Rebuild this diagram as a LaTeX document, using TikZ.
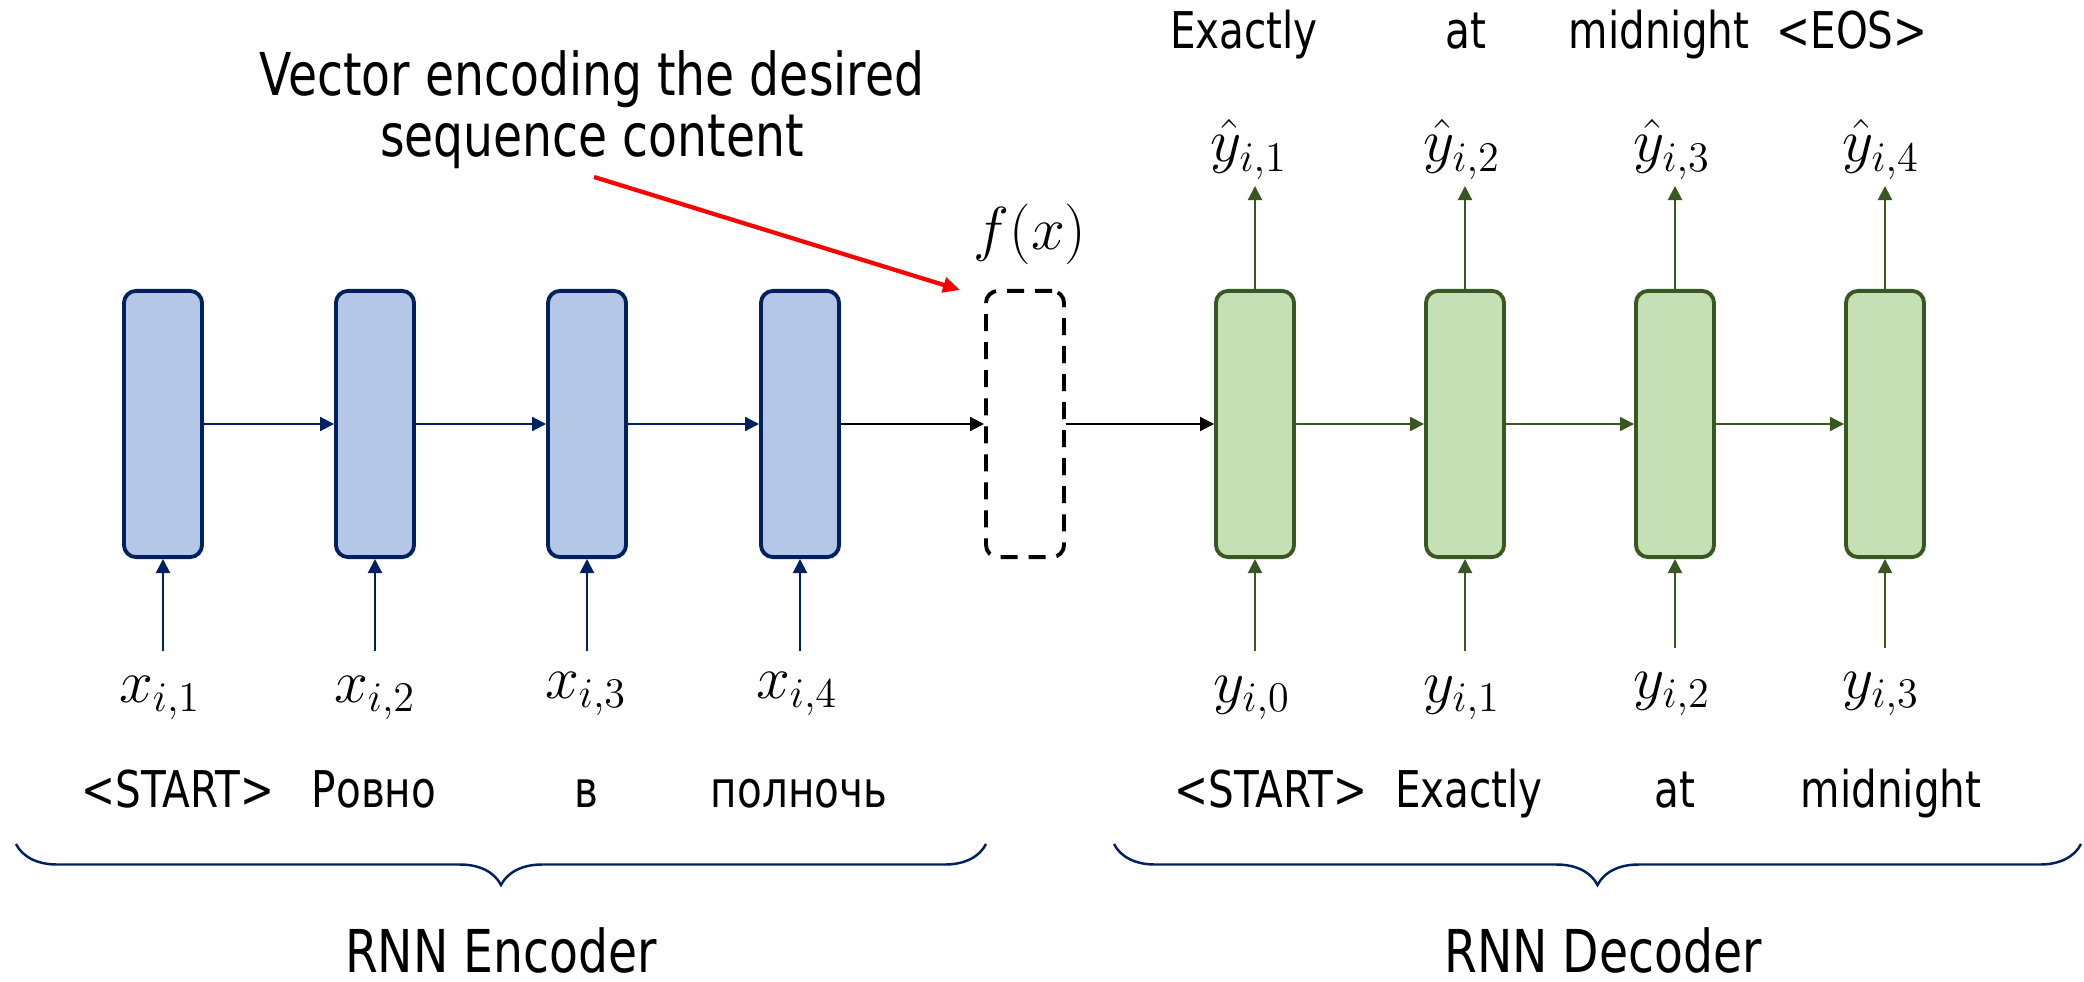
\documentclass[tikz,border=0pt]{standalone}
\usepackage{fontspec}
\setmainfont[FakeStretch=0.8]{DejaVu Sans}
\usetikzlibrary{arrows.meta,decorations.pathreplacing}
\definecolor{encfill}{RGB}{180,199,231}
\definecolor{encline}{RGB}{0,32,96}
\definecolor{decfill}{RGB}{197,224,180}
\definecolor{decline}{RGB}{56,87,35}
\begin{document}
\begin{tikzpicture}[x=0.01cm,y=-0.01cm,
  cell/.style={rounded corners=0.12cm, minimum width=0.78cm, minimum height=2.66cm, inner sep=0pt, line width=1.1pt},
  enccell/.style={cell, draw=encline, fill=encfill},
  deccell/.style={cell, draw=decline, fill=decfill},
  fcell/.style={cell, draw=black, dash pattern=on 0.17cm off 0.11cm},
  tipa/.style={-{Triangle[length=0.14cm,width=0.14cm]}},
  encarrow/.style={tipa, draw=encline, line width=0.6pt},
  decarrow/.style={tipa, draw=decline, line width=0.6pt},
  blkarrow/.style={tipa, draw=black, line width=0.6pt},
  redarrow/.style={-{Triangle[length=0.17cm,width=0.15cm]}, draw=red, line width=1.2pt},
  word/.style={anchor=base, inner sep=0pt, font=\fontsize{14.4}{16}\selectfont},
  ttl/.style={anchor=base, inner sep=0pt, font=\fontsize{16.8}{19}\selectfont},
  mlbl/.style={anchor=base, inner sep=0pt, font=\fontsize{16.5}{19}\selectfont},
  brc/.style={draw=encline, line width=0.7pt, decorate, decoration={brace, mirror, amplitude=0.41cm}}
]
\useasboundingbox (0,0) rectangle (2084,982);

% title
\node[ttl] (t1) at (592,96) {Vector encoding the desired};
\node[ttl] (t2) at (592,157) {sequence content};

% encoder cells
\node[enccell] (e1) at (163,424) {};
\node[enccell] (e2) at (375,424) {};
\node[enccell] (e3) at (587,424) {};
\node[enccell] (e4) at (800,424) {};
% context
\node[fcell] (f) at (1025,424) {};
\node[mlbl] (fx) at (1030,250) {$f(x)$};
% decoder cells
\node[deccell] (d1) at (1255,424) {};
\node[deccell] (d2) at (1465,424) {};
\node[deccell] (d3) at (1675,424) {};
\node[deccell] (d4) at (1885,424) {};

% recurrent arrows
\draw[encarrow] (e1.east) -- (e2.west);
\draw[encarrow] (e2.east) -- (e3.west);
\draw[encarrow] (e3.east) -- (e4.west);
\draw[blkarrow] (e4.east) -- (f.west);
\draw[blkarrow] (f.east) -- (d1.west);
\draw[decarrow] (d1.east) -- (d2.west);
\draw[decarrow] (d2.east) -- (d3.west);
\draw[decarrow] (d3.east) -- (d4.west);

% red annotation arrow
\coordinate (rs) at (594,177);
\coordinate (rt) at (960,290);
\draw[redarrow] (rs) -- (rt);

% encoder inputs
\coordinate (xi1) at (163,651);
\coordinate (xi2) at (375,651);
\coordinate (xi3) at (587,651);
\coordinate (xi4) at (800,651);
\draw[encarrow] (xi1) -- (e1.south);
\draw[encarrow] (xi2) -- (e2.south);
\draw[encarrow] (xi3) -- (e3.south);
\draw[encarrow] (xi4) -- (e4.south);
\node[mlbl] (x1) at (160,702) {$x_{i,1}$};
\node[mlbl] (x2) at (375,702) {$x_{i,2}$};
\node[mlbl] (x3) at (586,698) {$x_{i,3}$};
\node[mlbl] (x4) at (797,698) {$x_{i,4}$};
\node[word] (w1) at (178,807) {<START>};
\node[word] (w2) at (374,807) {Ровно};
\node[word] (w3) at (586,807) {в};
\node[word] (w4) at (799,807) {полночь};

% decoder inputs
\coordinate (yi1) at (1255,651);
\coordinate (yi2) at (1465,651);
\coordinate (yi3) at (1675,648);
\coordinate (yi4) at (1885,648);
\draw[decarrow] (yi1) -- (d1.south);
\draw[decarrow] (yi2) -- (d2.south);
\draw[decarrow] (yi3) -- (d3.south);
\draw[decarrow] (yi4) -- (d4.south);
\node[mlbl] (y0) at (1252,702) {$y_{i,0}$};
\node[mlbl] (y1) at (1462,702) {$y_{i,1}$};
\node[mlbl] (y2) at (1672,698) {$y_{i,2}$};
\node[mlbl] (y3) at (1881,698) {$y_{i,3}$};
\node[word] (v1) at (1271,807) {<START>};
\node[word] (v2) at (1469,807) {Exactly};
\node[word] (v3) at (1675,807) {at};
\node[word] (v4) at (1891,807) {midnight};

% decoder outputs
\coordinate (yo1) at (1255,186);
\coordinate (yo2) at (1465,186);
\coordinate (yo3) at (1675,186);
\coordinate (yo4) at (1885,186);
\draw[decarrow] (d1.north) -- (yo1);
\draw[decarrow] (d2.north) -- (yo2);
\draw[decarrow] (d3.north) -- (yo3);
\draw[decarrow] (d4.north) -- (yo4);
\node[mlbl] (h1) at (1249,162) {$\hat{y}_{i,1}$};
\node[mlbl] (h2) at (1462,162) {$\hat{y}_{i,2}$};
\node[mlbl] (h3) at (1672,162) {$\hat{y}_{i,3}$};
\node[mlbl] (h4) at (1881,162) {$\hat{y}_{i,4}$};
\node[word] (o1) at (1244,49) {Exactly};
\node[word] (o2) at (1466,49) {at};
\node[word] (o3) at (1659,49) {midnight};
\node[word] (o4) at (1852,49) {<EOS>};

% braces
\coordinate (be1) at (16,844);
\coordinate (be2) at (986,844);
\coordinate (bd1) at (1114,844);
\coordinate (bd2) at (2081,844);
\draw[brc] (be1) -- (be2);
\draw[brc] (bd1) -- (bd2);
\node[ttl] (enc) at (501,972) {RNN Encoder};
\node[ttl] (dec) at (1603,972) {RNN Decoder};
\end{tikzpicture}
\end{document}
